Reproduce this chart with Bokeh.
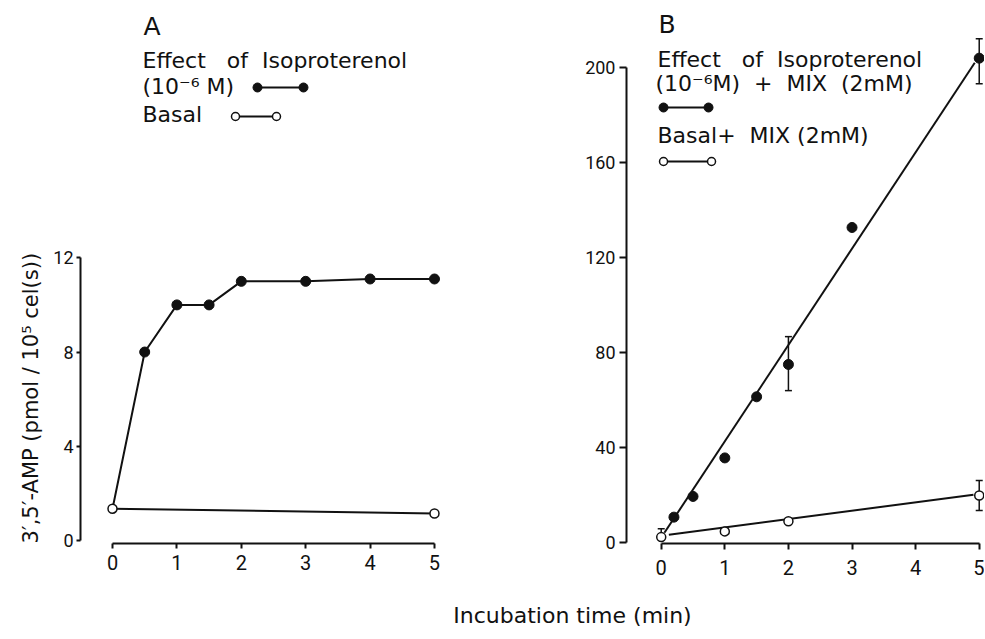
from bokeh.plotting import figure
from bokeh.models import (Range1d, LinearAxis, Label, Title, ColumnDataSource, Whisker,
                          TeeHead, FixedTicker)
from bokeh.layouts import row, column
from bokeh.embed import file_html
from bokeh.resources import INLINE

# ---------------- data ----------------
x_ticks = [0, 1, 2, 3, 4, 5]

# Panel A
a_iso_time = [0.5, 1, 1.5, 2, 3, 4, 5]
a_iso = [8.0, 10.0, 10.0, 11.0, 11.0, 11.1, 11.1]
a_basal_time = [0, 5]
a_basal = [1.35, 1.15]
a_yticks = [0, 4, 8, 12]

# Panel B
b_iso_time = [0.2, 0.5, 1, 1.5, 2, 3, 5]
b_iso = [10.8, 19.5, 35.7, 61.4, 75.0, 132.6, 203.8]
b_iso_err_time = [2, 5]
b_iso_err_low = [64.0, 193.0]
b_iso_err_high = [86.7, 212.0]
b_basal_time = [0, 1, 2, 5]
b_basal = [2.4, 4.8, 9.1, 19.9]
b_basal_err_time = [0, 5]
b_basal_err_low = [2.4, 13.6]
b_basal_err_high = [5.9, 26.2]
b_iso_fit_time = [0.05, 4.93]
b_iso_fit = [4.2, 201.9]
b_basal_fit_time = [0.12, 4.91]
b_basal_fit = [3.4, 20.2]
b_yticks = [0, 40, 80, 120, 160, 200]

TXT = "DejaVu Sans"
NUM = "Roboto"
BLACK = "#111111"
NB = "\u00a0"

H1 = 595   # height of the two panels
H2 = 40    # height of the strip holding the common x label
FB = 52    # bottom border shared by every plot in the row (frames are aligned)


def style_axis(ax, size, tick_out, standoff):
    ax.axis_line_width = 2
    ax.axis_line_color = BLACK
    ax.major_tick_line_width = 2
    ax.major_tick_line_color = BLACK
    ax.major_tick_out = tick_out
    ax.major_tick_in = 0
    ax.minor_tick_out = 0
    ax.minor_tick_in = 0
    ax.major_label_text_font = NUM
    ax.major_label_text_font_size = size
    ax.major_label_text_color = BLACK
    ax.major_label_standoff = standoff


def base_fig(width, height, xr, yr, left, bottom=FB):
    p = figure(width=width, height=height, x_range=xr, y_range=yr,
               x_axis_type=None, y_axis_type=None,
               output_backend="svg", toolbar_location=None,
               min_border_left=left, min_border_right=0,
               min_border_top=0, min_border_bottom=bottom)
    p.outline_line_color = None
    p.background_fill_color = "white"
    p.border_fill_color = "white"
    return p


def txt(p, x, y, text, size="22px", align="left"):
    p.add_layout(Label(x=x, y=y, text=text, text_font=TXT, text_font_size=size,
                       text_color=BLACK, text_align=align, text_baseline="middle"))


# ---------------- y label strip ----------------
# vertical title starting near the bottom of the (aligned) frame
pL = base_fig(45, H1, Range1d(0, 1), Range1d(0, 1), 44)
pL.add_layout(Title(text="3\u2032,5\u2032-AMP (pmol" + NB + "/" + NB + "10\u2075 cel(s))",
                    align="left", standoff=3,
                    text_font=TXT, text_font_size="21px", text_font_style="normal",
                    text_color=BLACK), "left")

# ---------------- Panel A ----------------
pA = base_fig(515, H1, Range1d(-0.497, 6.957), Range1d(-0.127, 22.92), 35)
xa = LinearAxis(ticker=FixedTicker(ticks=x_ticks), bounds=(0, 5))
style_axis(xa, "20px", 5, 6)
pA.add_layout(xa, "below")
ya = LinearAxis(ticker=FixedTicker(ticks=a_yticks), bounds=(0, 12))
style_axis(ya, "18px", 4, 3)
pA.add_layout(ya, "left")

pA.line([a_basal_time[0]] + a_iso_time, [a_basal[0]] + a_iso, line_width=2, line_color=BLACK)
pA.scatter(a_iso_time, a_iso, size=10, fill_color=BLACK, line_color=BLACK)
pA.line(a_basal_time, a_basal, line_width=2, line_color=BLACK)
pA.scatter(a_basal_time, a_basal, size=9, fill_color="white", line_color=BLACK, line_width=1.5)


def ax_(px):
    return (px - 112) / 64.4


def ay_(py):
    return (540 - py) / 23.56


txt(pA, ax_(143), ay_(26), "A", size="25px")
txt(pA, ax_(142), ay_(60), "Effect" + NB * 3 + "of" + NB * 2 + "Isoproterenol")
txt(pA, ax_(142), ay_(86), "(10\u207b\u2076" + NB + "M)")
pA.line([ax_(257), ax_(303)], [ay_(87)] * 2, line_width=2, line_color=BLACK)
pA.scatter([ax_(257), ax_(303)], [ay_(87)] * 2, size=9, fill_color=BLACK, line_color=BLACK)
txt(pA, ax_(142), ay_(114), "Basal")
pA.line([ax_(235), ax_(276)], [ay_(116)] * 2, line_width=2, line_color=BLACK)
pA.scatter([ax_(235), ax_(276)], [ay_(116)] * 2, size=8, fill_color="white",
           line_color=BLACK, line_width=1.5)

# ---------------- Panel B ----------------
pB = base_fig(424, H1, Range1d(-0.546, 5.083), Range1d(-0.29, 228.05), 66)
xb = LinearAxis(ticker=FixedTicker(ticks=x_ticks), bounds=(0, 5))
style_axis(xb, "20px", 6, 10)
pB.add_layout(xb, "below")
yb = LinearAxis(ticker=FixedTicker(ticks=b_yticks), bounds=(0, 200))
style_axis(yb, "18px", 7, 4)
pB.add_layout(yb, "left")

pB.line(b_iso_fit_time, b_iso_fit, line_width=2, line_color=BLACK)
pB.line(b_basal_fit_time, b_basal_fit, line_width=2, line_color=BLACK)

for t, lo, hi in ((b_iso_err_time, b_iso_err_low, b_iso_err_high),
                  (b_basal_err_time, b_basal_err_low, b_basal_err_high)):
    src = ColumnDataSource(dict(base=t, lower=lo, upper=hi))
    pB.add_layout(Whisker(source=src, base="base", lower="lower", upper="upper",
                          line_width=1.5, line_color=BLACK,
                          upper_head=TeeHead(size=7, line_width=1.5, line_color=BLACK),
                          lower_head=TeeHead(size=7, line_width=1.5, line_color=BLACK)))

pB.scatter(b_iso_time, b_iso, size=10, fill_color=BLACK, line_color=BLACK)
pB.scatter(b_basal_time, b_basal, size=9, fill_color="white", line_color=BLACK, line_width=1.5)


def bx_(px):
    return (px - 660.7) / 63.6


def by_(py):
    return (542.3 - py) / 2.378


txt(pB, bx_(658), by_(24), "B", size="25px")
txt(pB, bx_(657), by_(59), "Effect" + NB * 3 + "of" + NB * 2 + "Isoproterenol")
txt(pB, bx_(655), by_(83), "(10\u207b\u2076M)" + NB * 2 + "+" + NB * 2 + "MIX" + NB * 2 + "(2mM)")
pB.line([bx_(663), bx_(708)], [by_(107)] * 2, line_width=2, line_color=BLACK)
pB.scatter([bx_(663), bx_(708)], [by_(107)] * 2, size=9, fill_color=BLACK, line_color=BLACK)
txt(pB, bx_(657), by_(135), "Basal+" + NB * 2 + "MIX" + NB + "(2mM)")
pB.line([bx_(663), bx_(711)], [by_(161)] * 2, line_width=2, line_color=BLACK)
pB.scatter([bx_(663), bx_(711)], [by_(161)] * 2, size=8, fill_color="white",
           line_color=BLACK, line_width=1.5)

# ---------------- common x label ----------------
pX = base_fig(984, H2, Range1d(0, 984), Range1d(0, H2), 0, bottom=0)
txt(pX, 572, 20, "Incubation time (min)", size="22px", align="center")

layout = column(row(pL, pA, pB), pX)
open("out.html", "w").write(file_html(layout, INLINE))
